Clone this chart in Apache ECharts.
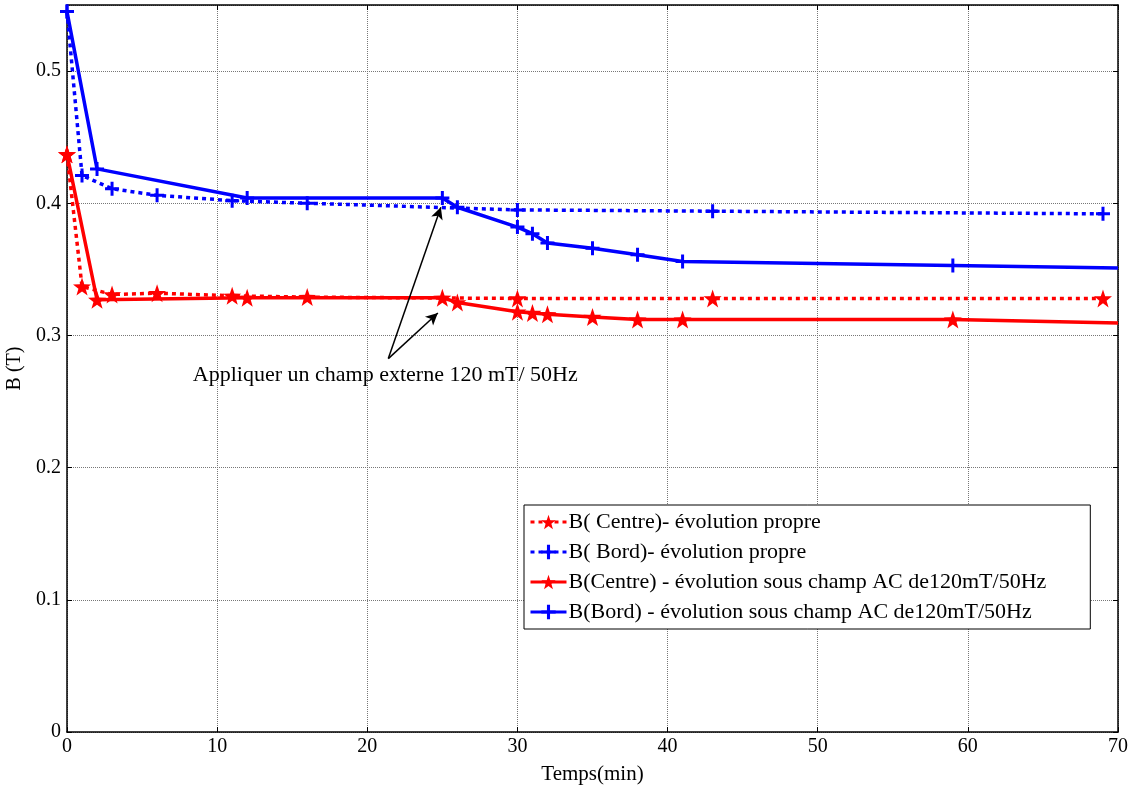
<!DOCTYPE html>
<html><head><meta charset="utf-8">
<script src="https://cdn.jsdelivr.net/npm/echarts@6/dist/echarts.min.js"></script>
<style>html,body{margin:0;padding:0;background:#fff}#c{width:1131px;height:787px}</style>
</head><body><div id="c"></div>
<script>
const namesLegend = ['B( Centre)- évolution propre','B( Bord)- évolution propre','B(Centre) - évolution sous champ AC de120mT/50Hz','B(Bord) - évolution sous champ AC de120mT/50Hz'];
const tCentreP = [0,1,3,6,11,16,30,43,69];
const bCentreP = [0.437,0.337,0.331,0.332,0.330,0.329,0.328,0.328,0.328];
const tBordP = [0,1,3,6,11,16,30,43,69];
const bBordP = [0.545,0.421,0.411,0.406,0.402,0.400,0.395,0.394,0.392];
const tCentreAC = [0,2,12,25,26,30,31,32,35,38,41,59,70];
const bCentreAC = [0.437,0.327,0.3285,0.3285,0.325,0.318,0.317,0.316,0.314,0.312,0.312,0.312,0.3095];
const tBordAC = [0,2,12,25,26,30,31,32,35,38,41,59,70];
const bBordAC = [0.545,0.426,0.404,0.404,0.397,0.382,0.377,0.370,0.366,0.361,0.356,0.353,0.351];
const annotText = 'Appliquer un champ externe 120 mT/ 50Hz';
const annotPos = [21.2, 0.2697];
const arrowFrom = [21.4, 0.2825];
const arrowTo1 = [24.9, 0.397];
const arrowTo2 = [24.7, 0.317];

const STAR = 'path://M0,-10 L2.35,-3.24 L9.51,-3.09 L3.8,1.24 L5.88,8.09 L0,4 L-5.88,8.09 L-3.8,1.24 L-9.51,-3.09 L-2.35,-3.24 Z';
const PLUS = 'path://M-1.5,-7 L1.5,-7 L1.5,-1.5 L7,-1.5 L7,1.5 L1.5,1.5 L1.5,7 L-1.5,7 L-1.5,1.5 L-7,1.5 L-7,-1.5 L-1.5,-1.5 Z';
const FONT = 'Liberation Serif';

function pts(t, b, lastNoSymbol) {
  return t.map((x, i) => {
    const p = {value: [x, b[i]]};
    if (lastNoSymbol && i === t.length - 1) p.symbol = 'none';
    return p;
  });
}

const chart = echarts.init(document.getElementById('c'));
const axisCommon = {
  axisLine: {show: true, onZero: false, lineStyle: {color: '#000', width: 1.5}},
  axisTick: {show: true, inside: true, length: 5, lineStyle: {color: '#000'}},
};
chart.setOption({
  animation: false,
  backgroundColor: '#fff',
  textStyle: {fontFamily: FONT},
  grid: {left: 67, right: 13, top: 5, bottom: 55, containLabel: false, outerBoundsMode: 'none'},
  legend: {
    data: namesLegend,
    orient: 'vertical',
    left: 524, top: 505,
    itemWidth: 36, itemHeight: 18, itemGap: 8,
    padding: [6, 44, 6, 5],
    borderColor: '#000', borderWidth: 1, backgroundColor: '#fff',
    lineStyle: {width: 3},
    textStyle: {fontFamily: FONT, fontSize: 22, color: '#000', padding: [0, 0, 0, -3]}
  },
  xAxis: [{
    type: 'value', min: 0, max: 70, interval: 10,
    name: 'Temps(min)', nameLocation: 'middle', nameGap: 32,
    nameTextStyle: {fontFamily: FONT, fontSize: 21, color: '#000'},
    ...axisCommon,
    axisLabel: {fontFamily: FONT, fontSize: 20, color: '#000', margin: 5},
    splitLine: {show: true, lineStyle: {color: '#777', type: 'dotted', width: 1}}
  }, {
    type: 'value', min: 0, max: 70, interval: 10, position: 'top',
    ...axisCommon, axisLabel: {show: false}, splitLine: {show: false}
  }],
  yAxis: [{
    type: 'value', min: 0, max: 0.55, interval: 0.1,
    name: 'B (T)', nameLocation: 'middle', nameGap: 40, nameRotate: 90,
    nameTextStyle: {fontFamily: FONT, fontSize: 20, color: '#000'},
    ...axisCommon,
    axisLabel: {fontFamily: FONT, fontSize: 20, color: '#000', margin: 6, showMaxLabel: false,
      formatter: v => (Math.round(v * 10) / 10).toString()},
    splitLine: {show: true, lineStyle: {color: '#777', type: 'dotted', width: 1}}
  }, {
    type: 'value', min: 0, max: 0.55, interval: 0.1, position: 'right',
    ...axisCommon, axisLabel: {show: false}, splitLine: {show: false}
  }],
  series: [
    {
      name: namesLegend[0], type: 'line', data: pts(tCentreP, bCentreP),
      symbol: STAR, symbolSize: 18, color: '#ff0000',
      lineStyle: {color: '#ff0000', width: 3.5, type: [4, 4]}, itemStyle: {color: '#ff0000'}, z: 2
    },
    {
      name: namesLegend[1], type: 'line', data: pts(tBordP, bBordP),
      symbol: PLUS, symbolSize: 14, color: '#0000ff',
      lineStyle: {color: '#0000ff', width: 3.5, type: [4, 4]}, itemStyle: {color: '#0000ff'}, z: 2
    },
    {
      name: namesLegend[2], type: 'line', data: pts(tCentreAC, bCentreAC, true),
      symbol: STAR, symbolSize: 18, color: '#ff0000',
      lineStyle: {color: '#ff0000', width: 3.5}, itemStyle: {color: '#ff0000'}, z: 3
    },
    {
      name: namesLegend[3], type: 'line', data: pts(tBordAC, bBordAC, true),
      symbol: PLUS, symbolSize: 14, color: '#0000ff',
      lineStyle: {color: '#0000ff', width: 3.5}, itemStyle: {color: '#0000ff'}, z: 3,
      markLine: {
        silent: true, symbol: ['none', 'arrow'], symbolSize: [9, 12],
        lineStyle: {color: '#000', width: 1.5, type: 'solid'},
        label: {show: false},
        data: [
          [{coord: arrowFrom}, {coord: arrowTo1}],
          [{coord: arrowFrom}, {coord: arrowTo2}]
        ]
      },
      markPoint: {
        silent: true, symbol: 'rect', symbolSize: 1,
        itemStyle: {color: 'rgba(0,0,0,0)'},
        label: {show: true, position: 'inside', formatter: annotText,
          fontFamily: FONT, fontSize: 22, color: '#000'},
        data: [{coord: annotPos}]
      }
    }
  ]
});
</script></body></html>
